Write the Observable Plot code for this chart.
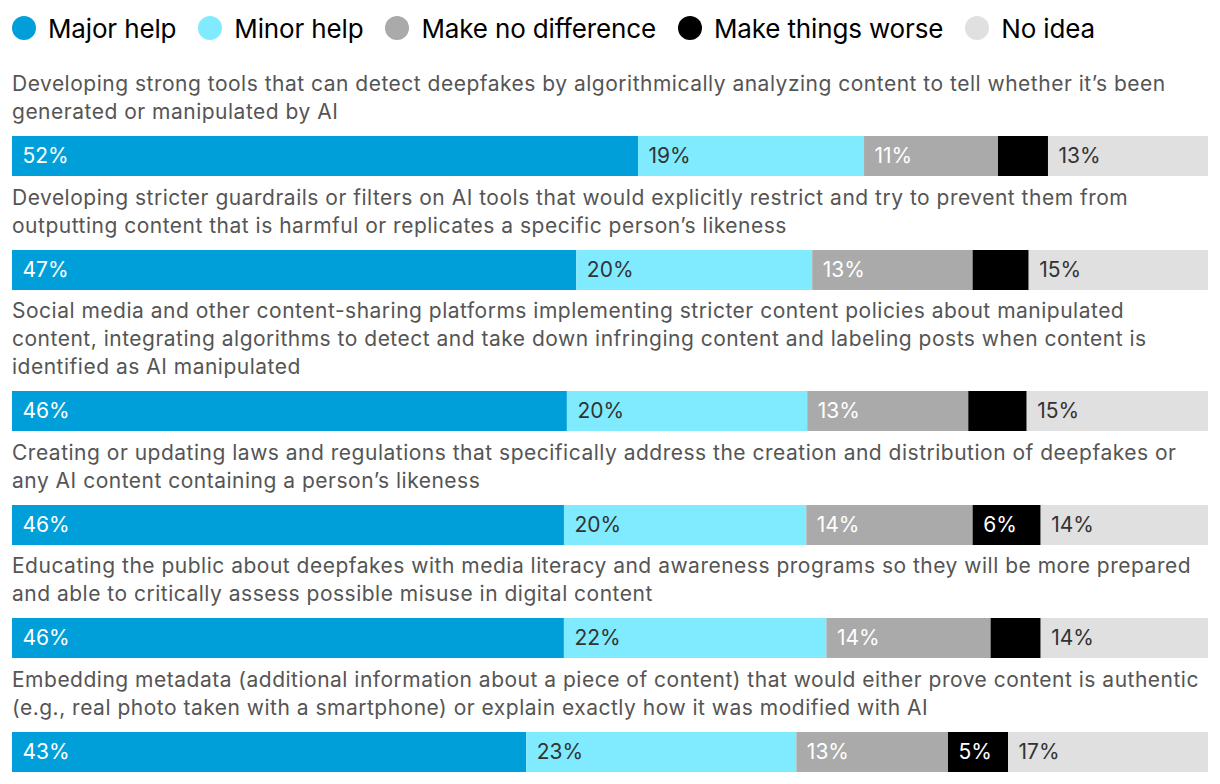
<!DOCTYPE html>
<html><head><meta charset="utf-8">
<script src="https://cdn.jsdelivr.net/npm/d3@7"></script>
<script src="https://cdn.jsdelivr.net/npm/@observablehq/plot@0.6"></script>
<style>
body{margin:0;background:#fff;font-family:Inter, Roboto, sans-serif;}
#chart{width:1196px;padding:0 12px;}
.legend{display:flex;align-items:center;height:28px;margin-top:14px;margin-bottom:28px;font-size:26px;color:#000;letter-spacing:-0.15px}
.item{display:flex;align-items:center;margin-right:22px}
.sw{width:24px;height:24px;border-radius:50%;margin-right:12px}
.label{font-size:21px;line-height:28px;color:#555;margin-bottom:10px;white-space:pre;letter-spacing:0.5px}
.row{margin-bottom:7.5px}
svg{display:block}
</style></head><body><div id="chart"></div>
<script>
const questions = [
  "Developing strong tools that can detect deepfakes by algorithmically analyzing content to tell whether it’s been\ngenerated or manipulated by AI",
  "Developing stricter guardrails or filters on AI tools that would explicitly restrict and try to prevent them from\noutputting content that is harmful or replicates a specific person’s likeness",
  "Social media and other content-sharing platforms implementing stricter content policies about manipulated\ncontent, integrating algorithms to detect and take down infringing content and labeling posts when content is\nidentified as AI manipulated",
  "Creating or updating laws and regulations that specifically address the creation and distribution of deepfakes or\nany AI content containing a person’s likeness",
  "Educating the public about deepfakes with media literacy and awareness programs so they will be more prepared\nand able to critically assess possible misuse in digital content",
  "Embedding metadata (additional information about a piece of content) that would either prove content is authentic\n(e.g., real photo taken with a smartphone) or explain exactly how it was modified with AI"
];
const categories = ["Major help", "Minor help", "Make no difference", "Make things worse", "No idea"];
const colors = ["#009fda", "#80ebfe", "#aaaaaa", "#000000", "#e0e0e0"];
const whiteText = ["Major help", "Make no difference", "Make things worse"];

const majorHelp    = [52.34, 47.18, 46.34, 46.15, 46.15, 42.99];
const minorHelp    = [18.90, 19.72, 20.07, 20.26, 21.95, 22.59];
const noDifference = [11.20, 13.41, 13.45, 13.91, 13.73, 12.68];
const thingsWorse  = [4.18, 4.69, 4.88, 5.69, 4.19, 5.02];
const noIdea       = [13.38, 14.99, 15.14, 13.99, 13.99, 16.72];
const series = [majorHelp, minorHelp, noDifference, thingsWorse, noIdea];

const chart = document.getElementById("chart");

// Legend
const legend = document.createElement("div");
legend.className = "legend";
categories.forEach((c, j) => {
  const it = document.createElement("div");
  it.className = "item";
  const sw = document.createElement("span");
  sw.className = "sw";
  sw.style.background = colors[j];
  const tx = document.createElement("span");
  tx.textContent = c;
  it.appendChild(sw); it.appendChild(tx);
  legend.appendChild(it);
});
chart.appendChild(legend);

const fmt = d => d.value >= 5 ? Math.round(d.value) + "%" : "";

questions.forEach((q, i) => {
  const row = document.createElement("div");
  row.className = "row";
  const lab = document.createElement("div");
  lab.className = "label";
  lab.textContent = q;
  row.appendChild(lab);
  const rowData = categories.map((c, j) => ({cat: c, value: series[j][i]}));
  const plot = Plot.plot({
    width: 1196,
    height: 40,
    margin: 0,
    x: {domain: [0, 1], axis: null},
    color: {domain: categories, range: colors},
    style: {fontFamily: "Inter, sans-serif", background: "#fff"},
    marks: [
      Plot.barX(rowData, Plot.stackX({x: "value", fill: "cat", offset: "normalize"})),
      Plot.text(rowData, Plot.stackX1({x: "value", offset: "normalize",
        text: d => whiteText.includes(d.cat) ? fmt(d) : "",
        fill: "#fff", textAnchor: "start", dx: 10, fontSize: 21})),
      Plot.text(rowData, Plot.stackX1({x: "value", offset: "normalize",
        text: d => whiteText.includes(d.cat) ? "" : fmt(d),
        fill: "#333", textAnchor: "start", dx: 10, fontSize: 21}))
    ]
  });
  row.appendChild(plot);
  chart.appendChild(row);
});
</script>
</body></html>
